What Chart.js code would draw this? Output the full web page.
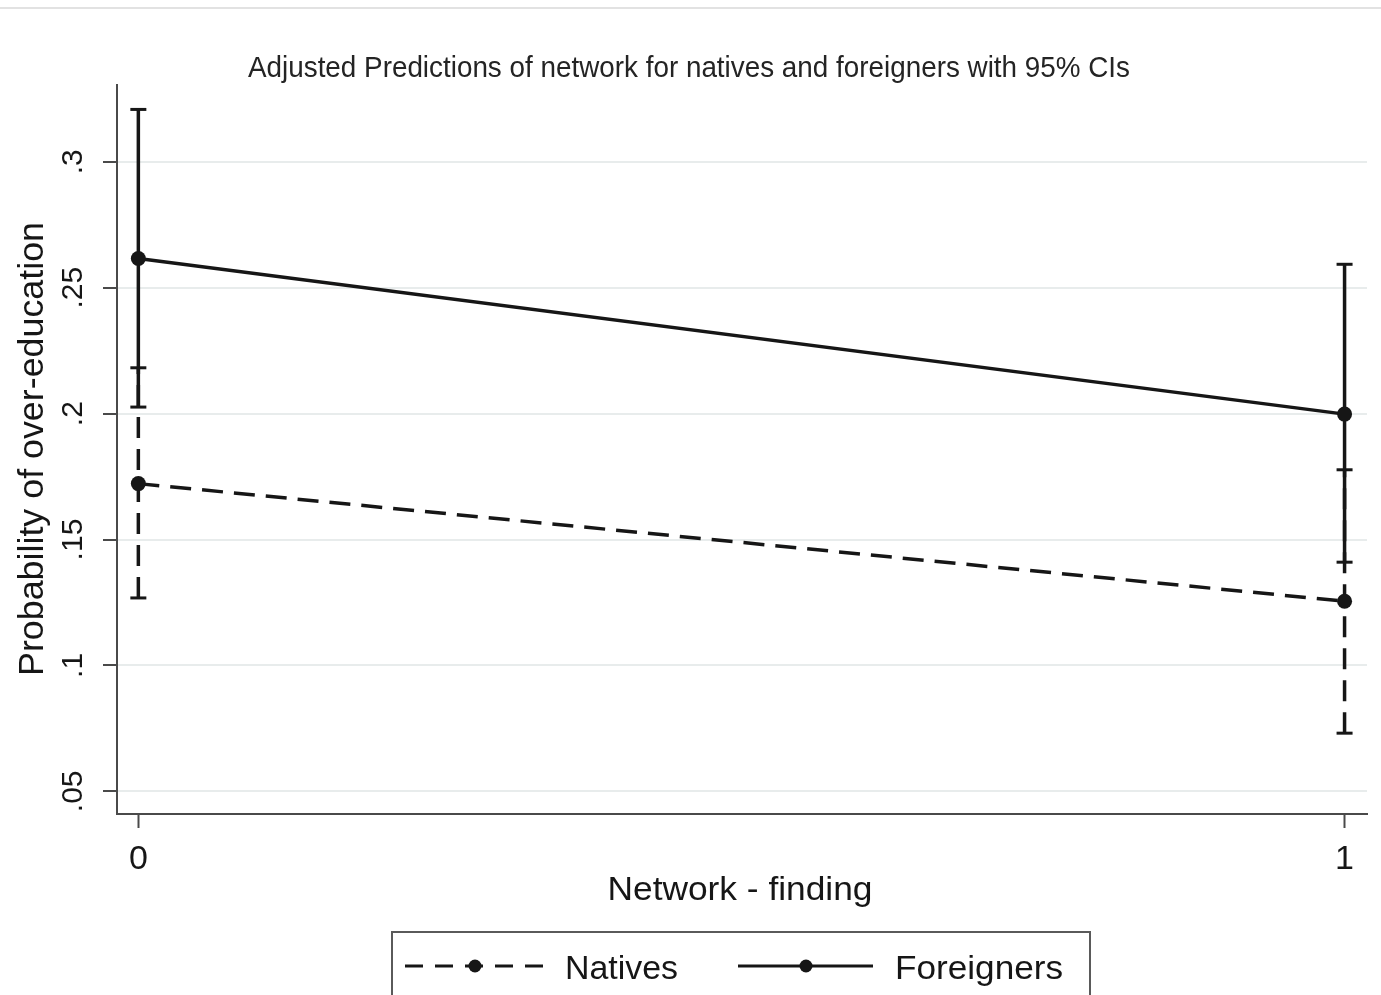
<!DOCTYPE html>
<html>
<head>
<meta charset="utf-8">
<title>Adjusted Predictions of network</title>
<script src="https://cdn.jsdelivr.net/npm/chart.js@4.4.1/dist/chart.umd.min.js"></script>
<style>
  html, body { margin: 0; padding: 0; background: #ffffff; }
  #wrap { position: relative; width: 1381px; height: 995px; overflow: hidden; }
  canvas { display: block; }
</style>
</head>
<body>
<div id="wrap"><canvas id="chart" width="1381" height="995"></canvas></div>
<script>
// Network - finding categories on the x axis
const networkFinding = [0, 1];
const xTickLabels = ['0', '1'];

// y axis ticks
const yTicks = [0.05, 0.10, 0.15, 0.20, 0.25, 0.30];
const yTickLabels = ['.05', '.1', '.15', '.2', '.25', '.3'];

// Predicted probability of over-education with 95% confidence limits
const nativesMargin = [0.1722, 0.1255];
const nativesLower = [0.1268, 0.0731];
const nativesUpper = [0.2182, 0.1777];

const foreignersMargin = [0.2616, 0.1998];
const foreignersLower = [0.2026, 0.1410];
const foreignersUpper = [0.3208, 0.2593];

const titleText = 'Adjusted Predictions of network for natives and foreigners with 95% CIs';
const yTitle = 'Probability of over-education';
const xTitle = 'Network - finding';
const seriesNames = ['Natives', 'Foreigners'];

const INK = '#161616';
const AXIS = '#4a4a4a';
const GRID = '#e8ecec';
const DASH = [21, 11];
const FONT = '"Liberation Sans", Arial, sans-serif';

function points(ys) {
  return networkFinding.map((x, i) => ({ x, y: ys[i] }));
}
// vertical CI segments, broken by a null point between categories
function ciSegments(lo, hi) {
  const pts = [];
  networkFinding.forEach((x, i) => {
    pts.push({ x, y: lo[i] }, { x, y: hi[i] }, { x, y: null });
  });
  return pts;
}
function ciCaps(lo, hi) {
  return networkFinding.flatMap((x, i) => [{ x, y: lo[i] }, { x, y: hi[i] }]);
}

function drawText(ctx, text, x, y, size, opts = {}) {
  ctx.save();
  ctx.font = size + 'px ' + FONT;
  ctx.fillStyle = opts.color || INK;
  ctx.textBaseline = 'alphabetic';
  ctx.textAlign = opts.align || 'left';
  ctx.translate(x, y);
  if (opts.rotate) ctx.rotate(opts.rotate);
  if (opts.width) {
    const w = ctx.measureText(text).width;
    ctx.scale(opts.width / w, 1);
  }
  ctx.fillText(text, 0, 0);
  ctx.restore();
}

const decorations = {
  id: 'decorations',
  afterDraw(chart) {
    const ctx = chart.ctx;
    const ys = chart.scales.y;
    const xs = chart.scales.x;

    // page rule at the top
    ctx.save();
    ctx.strokeStyle = '#e2e2e2';
    ctx.lineWidth = 2;
    ctx.beginPath();
    ctx.moveTo(0, 8);
    ctx.lineTo(1381, 8);
    ctx.stroke();
    ctx.restore();

    // title
    drawText(ctx, titleText, 689, 77, 29, { align: 'center', width: 882, color: '#242424' });

    // y tick labels, rotated
    yTicks.forEach((v, i) => {
      drawText(ctx, yTickLabels[i], 82, ys.getPixelForValue(v), 30,
        { align: 'center', rotate: -Math.PI / 2 });
    });
    // y title
    drawText(ctx, yTitle, 43, 449, 35, { align: 'center', rotate: -Math.PI / 2, width: 454 });

    // x tick labels
    networkFinding.forEach((v, i) => {
      drawText(ctx, xTickLabels[i], xs.getPixelForValue(v), 869, 34, { align: 'center' });
    });
    // x title
    drawText(ctx, xTitle, 740, 900, 34, { align: 'center', width: 265 });

    // legend
    ctx.save();
    ctx.strokeStyle = '#5a5a5a';
    ctx.lineWidth = 2;
    ctx.strokeRect(392, 932, 698, 90);

    const ly = 966;
    ctx.strokeStyle = INK;
    ctx.fillStyle = INK;
    ctx.lineWidth = 3;
    ctx.setLineDash([18, 12]);
    ctx.beginPath();
    ctx.moveTo(405, ly);
    ctx.lineTo(543, ly);
    ctx.stroke();
    ctx.setLineDash([]);
    ctx.beginPath();
    ctx.arc(475, ly, 6.5, 0, Math.PI * 2);
    ctx.fill();

    ctx.beginPath();
    ctx.moveTo(738, ly);
    ctx.lineTo(873, ly);
    ctx.stroke();
    ctx.beginPath();
    ctx.arc(806, ly, 6.5, 0, Math.PI * 2);
    ctx.fill();
    ctx.restore();

    drawText(ctx, seriesNames[0], 565, 979, 34, { width: 113 });
    drawText(ctx, seriesNames[1], 895, 979, 34, { width: 168 });
  }
};

new Chart(document.getElementById('chart'), {
  type: 'line',
  data: {
    datasets: [
      {
        label: seriesNames[0],
        data: points(nativesMargin),
        borderColor: INK, borderWidth: 3.5, borderDash: DASH,
        pointRadius: 7.5, pointBackgroundColor: INK, pointBorderWidth: 0,
        tension: 0
      },
      {
        label: seriesNames[1],
        data: points(foreignersMargin),
        borderColor: INK, borderWidth: 3.5,
        pointRadius: 7.5, pointBackgroundColor: INK, pointBorderWidth: 0,
        tension: 0
      },
      {
        label: seriesNames[0] + ' CI',
        data: ciSegments(nativesLower, nativesUpper),
        borderColor: INK, borderWidth: 3.5, borderDash: DASH,
        pointRadius: 0, spanGaps: false
      },
      {
        label: seriesNames[1] + ' CI',
        data: ciSegments(foreignersLower, foreignersUpper),
        borderColor: INK, borderWidth: 3.5,
        pointRadius: 0, spanGaps: false
      },
      {
        label: 'caps',
        data: ciCaps(nativesLower, nativesUpper).concat(ciCaps(foreignersLower, foreignersUpper)),
        showLine: false,
        pointStyle: 'line', pointRadius: 8,
        pointBorderColor: INK, pointBorderWidth: 3
      }
    ]
  },
  options: {
    responsive: false,
    animation: false,
    events: [],
    layout: { autoPadding: false, padding: { left: 103, top: 85, right: 14, bottom: 167 } },
    plugins: { legend: { display: false }, title: { display: false }, tooltip: { enabled: false } },
    scales: {
      x: {
        type: 'linear',
        min: -0.0177, max: 1.0186,
        afterBuildTicks(scale) { scale.ticks = networkFinding.map(v => ({ value: v })); },
        ticks: { display: false },
        grid: { display: true, drawOnChartArea: false, drawTicks: true, tickLength: 14, tickColor: AXIS, tickWidth: 2 },
        border: { display: true, color: AXIS, width: 2 }
      },
      y: {
        type: 'linear',
        min: 0.041, max: 0.3305,
        afterBuildTicks(scale) { scale.ticks = yTicks.map(v => ({ value: v })); },
        ticks: { display: false },
        grid: { display: true, drawOnChartArea: true, color: GRID, lineWidth: 2, drawTicks: true, tickLength: 14, tickColor: AXIS, tickWidth: 2 },
        border: { display: true, color: AXIS, width: 2 }
      }
    }
  },
  plugins: [decorations]
});
</script>
</body>
</html>
